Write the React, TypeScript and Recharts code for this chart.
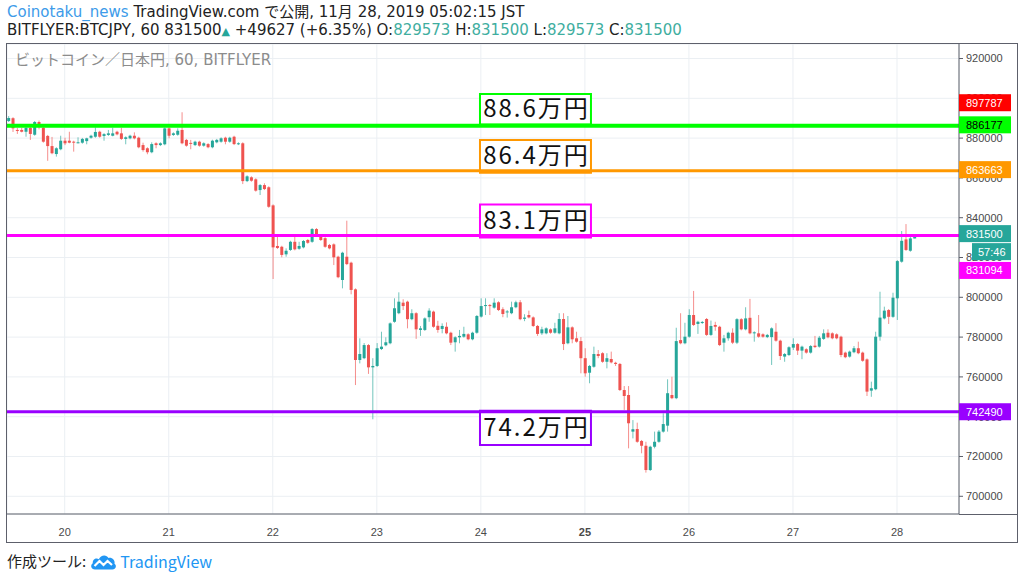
import React from 'react';
import {
  ComposedChart,
  Bar,
  XAxis,
  YAxis,
  CartesianGrid,
  ReferenceLine,
  ReferenceArea,
} from 'recharts';

// first candle = Nov 19, 11:00 (hours counted from Nov 19 00:00), one candle per hour
const startHour = 11;

// prices in thousands of JPY
const opens = [
  888.6, 890.0, 884.1, 884.1, 883.2, 885.1, 881.7, 888.1, 885.2, 881.1,
  876.0, 872.0, 874.4, 878.7, 878.7, 878.2, 877.5, 877.7, 878.5, 880.2,
  880.7, 883.2, 881.1, 881.6, 881.2, 883.2, 882.4, 879.6, 879.9, 881.2,
  880.2, 876.5, 874.9, 872.9, 877.4, 876.5, 876.9, 884.9, 881.6, 881.7,
  884.1, 879.1, 877.6, 876.5, 878.2, 876.2, 877.0, 875.4, 877.9, 878.2,
  880.2, 878.2, 880.7, 877.0, 877.4, 858.4, 860.3, 859.3, 853.9, 856.4,
  855.3, 846.2, 825.8, 825.4, 821.6, 823.8, 827.9, 824.4, 825.1, 828.8,
  827.9, 834.3, 831.3, 829.7, 826.3, 826.6, 820.4, 808.7, 820.4, 817.4,
  804.0, 768.5, 769.4, 776.0, 764.8, 765.5, 774.0, 775.9, 776.9, 787.7,
  792.0, 797.3, 797.8, 789.0, 792.0, 783.6, 783.6, 790.0, 792.8, 785.7,
  784.1, 785.2, 782.2, 777.4, 779.9, 780.2, 781.4, 778.9, 782.2, 790.3,
  795.6, 796.1, 794.8, 797.5, 794.0, 792.4, 792.0, 795.0, 797.5, 789.2,
  791.1, 789.9, 785.6, 781.9, 781.9, 783.9, 782.2, 781.9, 789.1, 776.9,
  784.9, 779.4, 778.0, 769.4, 762.1, 765.1, 771.5, 771.9, 767.6, 769.0,
  767.1, 766.5, 753.4, 750.9, 732.5, 733.8, 727.8, 725.4, 713.2, 724.9,
  727.4, 732.5, 735.5, 750.9, 749.3, 778.5, 776.9, 780.2, 791.1, 786.6,
  787.1, 789.1, 781.1, 786.1, 785.2, 777.2, 779.4, 782.2, 777.2, 789.0,
  783.9, 789.7, 781.9, 781.9, 781.4, 780.0, 780.0, 782.7, 778.2, 770.2,
  771.0, 774.7, 776.5, 773.2, 773.9, 772.2, 775.7, 775.2, 779.1, 782.2,
  781.9, 781.4, 780.2, 772.2, 770.2, 772.4, 774.4, 772.2, 768.8, 753.1,
  753.8, 780.2, 789.4, 793.6, 790.2, 799.5, 817.9, 829.1, 823.4, 829.573,
];
const highs = [
  891.1, 890.5, 885.1, 885.2, 885.6, 885.6, 888.6, 888.8, 885.7, 881.6,
  880.6, 875.4, 881.2, 880.2, 883.2, 878.7, 880.4, 880.1, 880.2, 881.7,
  885.4, 883.7, 882.5, 884.1, 885.2, 883.7, 885.2, 880.9, 881.7, 882.9,
  880.7, 877.7, 875.4, 877.9, 877.9, 877.9, 885.4, 885.4, 882.9, 884.9,
  893.0, 879.6, 879.1, 878.7, 878.7, 877.9, 877.5, 879.2, 879.6, 880.4,
  880.7, 880.7, 881.2, 877.9, 877.9, 861.3, 860.8, 859.8, 856.9, 857.3,
  855.8, 846.7, 830.3, 825.9, 824.6, 828.4, 830.4, 827.9, 828.8, 829.3,
  834.8, 834.8, 831.8, 830.2, 826.8, 827.1, 820.9, 822.9, 838.5, 817.9,
  804.5, 779.4, 777.0, 776.5, 769.4, 777.0, 782.7, 779.9, 787.4, 799.5,
  802.5, 799.0, 798.3, 794.0, 792.5, 785.6, 789.9, 794.5, 793.3, 788.2,
  786.9, 787.4, 782.7, 780.4, 783.6, 785.2, 781.9, 782.7, 791.1, 799.5,
  799.5, 796.6, 799.5, 798.0, 795.0, 793.6, 797.8, 798.3, 798.6, 791.5,
  793.3, 790.4, 786.1, 785.2, 784.9, 784.4, 787.2, 792.0, 792.0, 790.6,
  785.4, 782.7, 780.0, 774.4, 766.0, 775.2, 773.5, 772.4, 771.9, 772.7,
  767.6, 767.0, 755.4, 755.4, 738.3, 737.0, 728.3, 727.4, 725.4, 732.5,
  733.3, 741.7, 758.8, 760.1, 784.7, 792.0, 787.2, 794.0, 803.2, 788.2,
  788.1, 789.6, 788.3, 787.7, 785.7, 781.1, 782.7, 784.4, 789.5, 789.5,
  795.0, 799.2, 782.9, 791.1, 781.9, 781.6, 784.9, 787.0, 778.7, 772.0,
  775.4, 779.4, 777.0, 775.7, 774.4, 776.0, 780.6, 780.6, 783.9, 783.9,
  782.4, 781.9, 780.7, 772.7, 773.2, 775.5, 777.7, 772.7, 769.3, 757.6,
  782.7, 802.8, 795.3, 794.1, 802.3, 818.7, 833.3, 836.8, 830.7, 831.5,
];
const lows = [
  888.1, 883.1, 882.1, 882.9, 880.7, 879.1, 881.2, 884.4, 877.7, 868.6,
  871.9, 870.7, 873.9, 876.5, 877.4, 873.2, 877.4, 877.2, 876.9, 879.7,
  880.2, 880.2, 878.7, 881.1, 880.9, 881.4, 879.1, 876.9, 879.4, 879.4,
  874.9, 873.2, 871.9, 872.4, 874.9, 876.0, 876.4, 879.9, 881.1, 881.2,
  876.9, 875.7, 874.4, 876.0, 875.7, 875.7, 874.9, 874.9, 877.4, 877.7,
  876.9, 877.7, 876.5, 876.5, 856.9, 857.9, 858.1, 853.1, 851.4, 853.9,
  845.0, 809.2, 824.3, 820.1, 820.4, 823.3, 823.6, 823.9, 824.6, 826.9,
  827.4, 831.3, 828.3, 824.9, 824.1, 816.2, 809.6, 804.5, 816.2, 801.5,
  755.9, 766.8, 768.9, 761.5, 738.7, 765.0, 773.5, 775.4, 776.4, 787.2,
  791.5, 793.6, 784.4, 788.5, 779.1, 780.6, 783.1, 787.7, 784.7, 782.2,
  781.9, 781.4, 776.0, 772.7, 776.9, 779.7, 778.4, 778.4, 781.7, 789.8,
  791.1, 791.1, 794.3, 793.1, 790.0, 789.8, 791.5, 794.5, 788.5, 788.0,
  789.4, 785.1, 780.6, 781.1, 781.4, 781.7, 781.7, 781.4, 773.5, 776.4,
  776.9, 777.2, 761.8, 760.1, 756.8, 764.6, 769.4, 767.1, 764.3, 766.8,
  765.5, 752.9, 743.4, 724.1, 729.1, 726.9, 721.6, 711.9, 712.7, 724.1,
  726.9, 732.0, 732.5, 748.8, 748.8, 776.4, 776.4, 779.7, 785.6, 781.6,
  786.6, 780.6, 780.6, 783.2, 775.5, 772.7, 778.2, 776.5, 776.5, 783.4,
  783.4, 781.4, 777.7, 779.7, 779.7, 779.5, 766.0, 777.7, 768.5, 767.6,
  770.5, 773.5, 771.0, 768.9, 771.7, 771.7, 774.5, 774.7, 778.6, 779.4,
  778.9, 778.9, 769.9, 769.4, 769.7, 771.9, 771.4, 767.6, 750.4, 750.0,
  753.3, 778.2, 788.9, 786.6, 789.7, 788.6, 817.4, 823.3, 822.9, 829.573,
];
const closes = [
  890.1, 884.9, 883.6, 883.2, 885.1, 882.1, 888.1, 886.1, 878.2, 876.0,
  872.4, 874.9, 878.7, 877.4, 877.7, 877.7, 877.9, 879.6, 879.9, 881.2,
  883.1, 880.7, 882.0, 882.4, 882.4, 881.9, 879.6, 880.4, 881.2, 879.9,
  875.4, 874.0, 872.9, 877.0, 876.5, 877.4, 884.9, 881.2, 882.4, 883.7,
  877.4, 876.2, 877.2, 878.2, 876.2, 877.4, 875.4, 878.7, 879.1, 879.9,
  878.2, 880.2, 877.0, 877.4, 858.4, 860.8, 858.6, 853.6, 856.4, 854.4,
  845.5, 825.1, 824.8, 821.3, 823.4, 827.9, 824.1, 825.8, 828.3, 827.4,
  834.3, 831.8, 828.8, 825.4, 824.6, 820.1, 810.1, 822.4, 816.7, 803.7,
  768.5, 771.5, 776.0, 764.8, 765.5, 774.4, 775.2, 777.4, 786.9, 794.5,
  797.8, 795.6, 789.0, 792.0, 783.9, 784.4, 789.4, 793.3, 785.2, 783.6,
  785.6, 781.9, 777.2, 779.9, 780.6, 781.6, 778.9, 782.2, 790.6, 795.6,
  796.1, 795.6, 797.3, 793.6, 791.6, 792.9, 795.0, 797.5, 789.0, 789.8,
  789.9, 785.6, 781.6, 783.9, 784.4, 782.2, 784.4, 789.1, 776.5, 784.9,
  778.9, 777.7, 769.4, 761.8, 765.5, 771.5, 770.5, 767.6, 769.4, 767.3,
  766.5, 753.4, 750.4, 736.7, 733.7, 727.4, 725.4, 713.2, 724.9, 727.4,
  732.5, 736.3, 751.8, 749.3, 778.0, 776.9, 780.2, 791.1, 786.1, 787.7,
  787.6, 781.1, 785.6, 785.2, 776.0, 779.4, 782.2, 777.2, 789.0, 783.9,
  789.4, 781.9, 782.4, 780.2, 780.2, 781.1, 784.4, 778.2, 770.5, 771.5,
  774.9, 776.5, 773.2, 775.2, 772.2, 775.5, 775.0, 779.7, 781.9, 779.9,
  779.4, 779.4, 771.0, 769.9, 772.7, 774.4, 771.9, 768.1, 752.6, 754.3,
  780.2, 789.8, 793.3, 790.2, 799.8, 818.2, 828.4, 823.8, 829.6, 831.5,
];

// day ticks (hours since Nov 19 00:00) and their labels
const dayTicks = [24, 48, 72, 96, 120, 144, 168, 192, 216];
const dayLabels = ['20', '21', '22', '23', '24', '25', '26', '27', '28'];
const boldDay = '25';

const priceTicks = [
  700000, 720000, 740000, 760000, 780000, 800000, 820000, 840000, 860000, 880000, 900000, 920000,
];

// horizontal levels drawn on the chart
const levelValues = [886177, 863663, 831094, 742490];
const levelColors = ['#00ff00', '#ff9800', '#ff00ff', '#9900ff'];
const levelWidths = [4, 3, 3, 3];
const levelTexts = ['88.6万円', '86.4万円', '83.1万円', '74.2万円'];

// price tags on the right scale
const tagValues = [897787, 886177, 863663, 831500, 831094, 742490];
const tagBg = ['#ff0000', '#00ff00', '#ff9800', '#26a69a', '#ff00ff', '#9900ff'];
const tagFg = ['#ffffff', '#000000', '#ffffff', '#ffffff', '#ffffff', '#ffffff'];
const tagShift = [0, -1, -1, -1, 35, 0];
const countdown = '57:46';

// annotation boxes (data coordinates: hours / yen)
const boxX = [119.8, 145.4];
const boxY = [
  [886800, 902200],
  [862600, 879050],
  [830000, 846700],
  [725800, 743000],
];

const xDomain = [10.69, 230.3];
const yDomain = [691100, 927300];

const candles = opens.map((o, i) => ({
  t: startHour + i,
  open: o * 1000,
  high: highs[i] * 1000,
  low: lows[i] * 1000,
  close: closes[i] * 1000,
  range: [lows[i] * 1000, highs[i] * 1000],
}));

const UP = '#26a69a';
const DOWN = '#ef5350';
const AXIS = '#5d606b';
const TICKFONT = '"Liberation Sans", Arial, sans-serif';
const JPFONT = '"Noto Sans CJK JP", "Noto Sans", sans-serif';
const HEADFONT = '"DejaVu Sans", "Noto Sans CJK JP", sans-serif';

const Candle = (props: any) => {
  const { x, y, width, height, payload } = props;
  if (x == null || y == null || payload == null) return null;
  const top = Math.min(y, y + height);
  const h = Math.abs(height);
  const { open, close, high, low } = payload;
  const span = high - low;
  const py = (v: number) => (span === 0 ? top : top + ((high - v) / span) * h);
  const up = close >= open;
  const color = up ? UP : DOWN;
  const cx = x + width / 2;
  const bTop = py(Math.max(open, close));
  const bBot = py(Math.min(open, close));
  return (
    <g>
      <line x1={cx} x2={cx} y1={top} y2={top + h} stroke={color} strokeOpacity={0.65} strokeWidth={1} />
      <rect x={cx - 1.5} y={bTop} width={3} height={Math.max(1, bBot - bTop)} fill={color} />
    </g>
  );
};

const DayTick = (props: any) => {
  const { x, y, payload } = props;
  const idx = dayTicks.indexOf(payload.value);
  const label = idx >= 0 ? dayLabels[idx] : '';
  return (
    <text
      x={x}
      y={y + 20}
      textAnchor="middle"
      fontSize={11}
      fill="#4a4a4a"
      fontFamily={TICKFONT}
      fontWeight={label === boldDay ? 'bold' : 'normal'}
    >
      {label}
    </text>
  );
};

const makeTag = (i: number) => (props: any) => {
  const vb = props.viewBox || {};
  const left = (vb.x || 0) + (vb.width || 0);
  const cy = (vb.y || 0) + tagShift[i];
  return (
    <g>
      <rect x={left} y={cy - 8.5} width={52} height={17} fill={tagBg[i]} />
      <text x={left + 7} y={cy + 4} fontSize={11} fill={tagFg[i]} fontFamily={TICKFONT}>
        {tagValues[i]}
      </text>
      {tagValues[i] === 831500 ? (
        <g>
          <rect x={left + 13} y={cy + 9.5} width={39} height={17} fill={tagBg[i]} />
          <text x={left + 19} y={cy + 22} fontSize={11} fill="#ffffff" fontFamily={TICKFONT}>
            {countdown}
          </text>
        </g>
      ) : null}
    </g>
  );
};

const makeBoxLabel = (i: number) => (props: any) => {
  const vb = props.viewBox || {};
  const cx = (vb.x || 0) + (vb.width || 0) / 2;
  const cy = (vb.y || 0) + (vb.height || 0) / 2;
  return (
    <text
      x={cx + 1}
      y={cy + 8}
      textAnchor="middle"
      fontSize={24}
      letterSpacing={2}
      fill="#111"
      fontFamily={JPFONT}
    >
      {levelTexts[i]}
    </text>
  );
};

const TVLogo = () => (
  <svg width="27" height="17" viewBox="0 0 27 17" style={{ verticalAlign: 'middle' }}>
    <path
      d="M5 16.5 C1 16.5 0 12 2.8 10.3 C2.3 6.5 6 4.5 8.8 6.2 C10.5 1.8 16.5 1 18.5 5 C21.5 4 25.5 7 24.5 10.8 C27 12.5 26 16.5 22.5 16.5 Z"
      fill="#2196f3"
    />
    <polyline points="4.5,13 9.5,8 13.5,12 17.5,8 22,12" stroke="#ffffff" strokeWidth="2.2" fill="none" />
  </svg>
);

const TEAL_TXT = '#3fae9f';

export default function App() {
  return (
    <div
      style={{
        position: 'fixed',
        left: 0,
        top: 0,
        width: 1024,
        height: 578,
        background: '#ffffff',
        overflow: 'hidden',
      }}
    >
      <div
        style={{
          position: 'absolute',
          left: 7,
          top: 3,
          fontSize: 15,
          lineHeight: '19px',
          fontFamily: HEADFONT,
          color: '#222',
          whiteSpace: 'nowrap',
        }}
      >
        <span style={{ color: '#3d9be9' }}>Coinotaku_news</span> TradingView.com で公開, 11月 28, 2019 05:02:15 JST
      </div>
      <div
        style={{
          position: 'absolute',
          left: 7,
          top: 21,
          fontSize: 15,
          lineHeight: '19px',
          fontFamily: HEADFONT,
          color: '#222',
          whiteSpace: 'nowrap',
        }}
      >
        BITFLYER:BTCJPY, 60 831500<span style={{ color: UP, fontSize: 11 }}>▲</span> +49627 (+6.35%) O:
        <span style={{ color: TEAL_TXT }}>829573</span> H:<span style={{ color: TEAL_TXT }}>831500</span> L:
        <span style={{ color: TEAL_TXT }}>829573</span> C:<span style={{ color: TEAL_TXT }}>831500</span>
      </div>

      <div style={{ position: 'absolute', left: 0, top: 0 }}>
        <ComposedChart
          width={1024}
          height={578}
          data={candles}
          margin={{ top: 44, right: 7, bottom: 36, left: 7 }}
        >
          <CartesianGrid stroke="#ebeff3" />
          <XAxis
            dataKey="t"
            type="number"
            domain={xDomain}
            allowDataOverflow
            ticks={dayTicks}
            interval={0}
            height={28}
            axisLine={{ stroke: AXIS }}
            tickLine={false}
            tickSize={0}
            tick={<DayTick />}
          />
          <YAxis
            orientation="right"
            type="number"
            domain={yDomain}
            allowDataOverflow
            ticks={priceTicks}
            interval={0}
            width={58}
            axisLine={{ stroke: AXIS }}
            tickLine={{ stroke: AXIS }}
            tickSize={4}
            tickMargin={3}
            tick={{ fontSize: 11, fill: '#4a4a4a', fontFamily: TICKFONT }}
            tickFormatter={(v: number) => String(v)}
          />
          <Bar dataKey="range" barSize={3} shape={Candle} isAnimationActive={false} />
          {levelValues.map((v, i) => (
            <ReferenceLine
              key={'lvl' + i}
              y={v}
              stroke={levelColors[i]}
              strokeWidth={levelWidths[i]}
            />
          ))}
          {boxY.map((yy, i) => (
            <ReferenceArea
              key={'box' + i}
              x1={boxX[0]}
              x2={boxX[1]}
              y1={yy[0]}
              y2={yy[1]}
              fill="#ffffff"
              fillOpacity={1}
              stroke={levelColors[i]}
              strokeWidth={2}
              strokeOpacity={1}
              label={makeBoxLabel(i)}
            />
          ))}
        </ComposedChart>
      </div>

      {/* price tags on the right scale, drawn over the axis labels */}
      <div style={{ position: 'absolute', left: 0, top: 0, pointerEvents: 'none' }}>
        <ComposedChart
          width={1024}
          height={578}
          data={candles}
          margin={{ top: 44, right: 65, bottom: 64, left: 7 }}
        >
          <XAxis dataKey="t" type="number" domain={xDomain} allowDataOverflow hide />
          <YAxis type="number" domain={yDomain} allowDataOverflow hide />
          {tagValues.map((v, i) => (
            <ReferenceLine
              key={'tag' + i}
              y={v}
              stroke="#ffffff"
              strokeOpacity={0}
              strokeWidth={0}
              label={makeTag(i)}
            />
          ))}
        </ComposedChart>
      </div>

      <div
        style={{
          position: 'absolute',
          left: 15,
          top: 50,
          fontSize: 15,
          lineHeight: '20px',
          fontFamily: HEADFONT,
          color: '#8c8c8c',
          whiteSpace: 'nowrap',
        }}
      >
        ビットコイン／日本円, 60, BITFLYER
      </div>

      <div
        style={{
          position: 'absolute',
          left: 6,
          top: 43,
          width: 1012,
          height: 500,
          boxSizing: 'border-box',
          border: '1px solid ' + AXIS,
          pointerEvents: 'none',
        }}
      />
      <div style={{ position: 'absolute', left: 959, top: 514, width: 58, height: 1, background: AXIS }} />

      <div
        style={{
          position: 'absolute',
          left: 7,
          top: 550,
          fontSize: 15,
          lineHeight: '22px',
          fontFamily: JPFONT,
          color: '#222',
          whiteSpace: 'nowrap',
          display: 'flex',
          alignItems: 'center',
        }}
      >
        <span>作成ツール:</span>
        <span style={{ marginLeft: 4, marginRight: 3, display: 'inline-flex' }}>
          <TVLogo />
        </span>
        <span style={{ color: '#2196f3', fontSize: 16 }}>TradingView</span>
      </div>
    </div>
  );
}
